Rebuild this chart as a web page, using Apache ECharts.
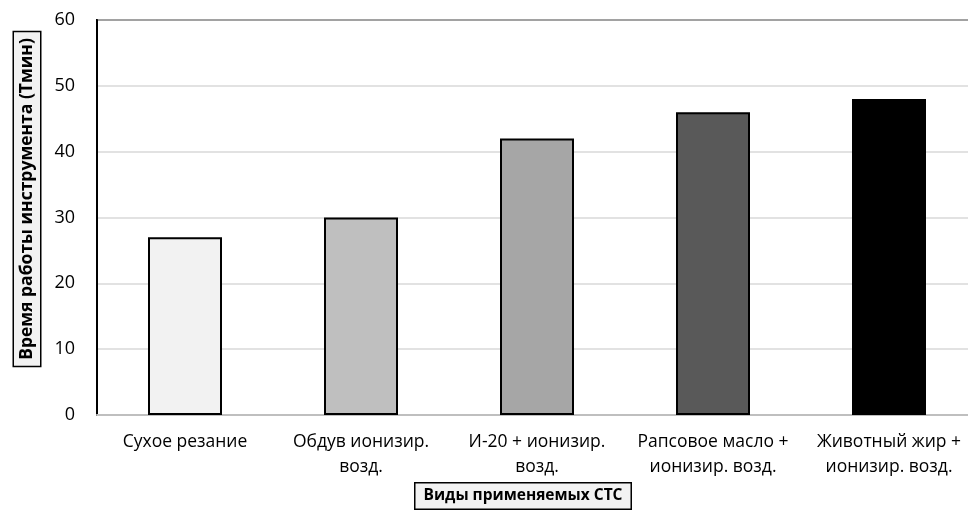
<!DOCTYPE html>
<html>
<head>
<meta charset="utf-8">
<script src="https://cdn.jsdelivr.net/npm/echarts@6/dist/echarts.min.js"></script>
<style>html,body{margin:0;padding:0;background:#fff}#c{width:968px;height:513px}</style>
</head>
<body>
<div id="c"></div>
<script>
const categories = ['Сухое резание', 'Обдув ионизир.\nвозд.', 'И-20 + ионизир.\nвозд.', 'Рапсовое масло +\nионизир. возд.', 'Животный жир +\nионизир. возд.'];
const values = [27, 30, 42, 46, 48];
const barColors = ['#f2f2f2', '#bfbfbf', '#a6a6a6', '#595959', '#000000'];
const yTitle = 'Время работы инструмента (Тмин)';
const xTitle = 'Виды применяемых СТС';
const FONT = '"Open Sans", "Noto Sans", sans-serif';

const chart = echarts.init(document.getElementById('c'), null, {renderer: 'canvas'});
chart.setOption({
  animation: false,
  grid: {left: 97, top: 20, width: 880, height: 395, show: true, borderColor: '#000', borderWidth: 2, backgroundColor: 'transparent', containLabel: false, outerBoundsMode: 'none'},
  xAxis: {
    type: 'category',
    data: categories,
    axisLine: {show: true, lineStyle: {color: '#bfbfbf', width: 2}},
    axisTick: {show: false},
    axisLabel: {color: '#000', fontFamily: FONT, fontSize: 17.5, lineHeight: 25, margin: 15, interval: 0}
  },
  yAxis: {
    type: 'value',
    min: 0, max: 60, interval: 10,
    axisLine: {show: true, lineStyle: {color: '#000', width: 2}},
    axisTick: {show: false},
    splitLine: {lineStyle: {color: '#d9d9d9', width: 1.5}},
    axisLabel: {color: '#000', fontFamily: FONT, fontSize: 18, margin: 22}
  },
  series: [{
    type: 'bar',
    data: values.map((v, i) => ({value: v, itemStyle: {color: barColors[i]}})),
    barWidth: 74,
    itemStyle: {borderColor: '#000', borderWidth: 2}
  }],
  graphic: [
    {
      type: 'text', x: 27, y: 199, rotation: Math.PI / 2,
      style: {text: yTitle, fontFamily: FONT, fontSize: 17.5, fontWeight: 'bold', fill: '#000',
        align: 'center', verticalAlign: 'middle',
        backgroundColor: '#f2f2f2', borderColor: '#000', borderWidth: 1.5, padding: [5, 6, 3, 6]}
    },
    {
      type: 'text', x: 523, y: 496,
      style: {text: xTitle, fontFamily: FONT, fontSize: 15.5, fontWeight: 'bold', fill: '#000',
        align: 'center', verticalAlign: 'middle',
        backgroundColor: '#f2f2f2', borderColor: '#000', borderWidth: 1.5, padding: [5, 8, 4, 8]}
    }
  ]
});
</script>
</body>
</html>
